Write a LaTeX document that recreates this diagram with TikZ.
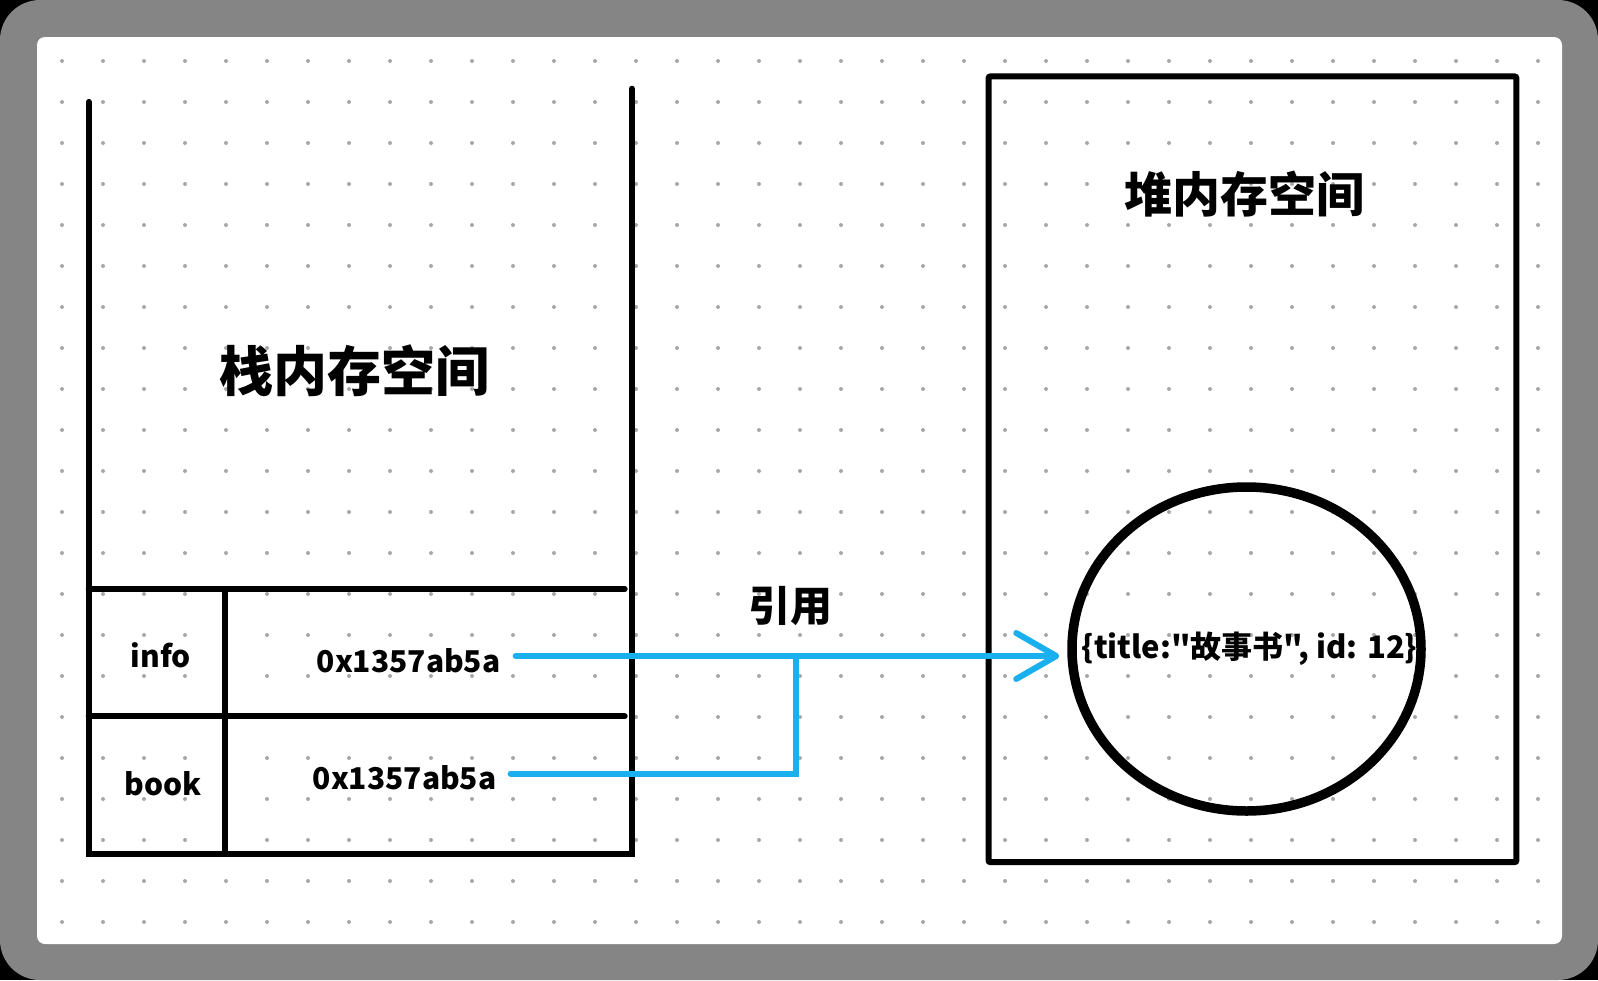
\documentclass[tikz,border=0pt]{standalone}
\usepackage{fontspec}
\usetikzlibrary{positioning}
\usetikzlibrary{shapes.geometric}
\usetikzlibrary{arrows.meta}
\newfontfamily\cjk{Noto Sans CJK SC}
\definecolor{refblue}{HTML}{1AAFEF}
\definecolor{dotgray}{HTML}{A8A8A8}
\definecolor{framegray}{HTML}{858585}

\begin{document}
\begin{tikzpicture}[x=1pt,y=-1pt,
    wall/.style={line width=6pt,line cap=round},
    ref/.style={draw=refblue,line width=6pt,line cap=round},
    lbl/.style={inner sep=0pt,font=\cjk\bfseries\fontsize{30}{30}\selectfont},
    bigtitle/.style={inner sep=0pt,font=\cjk\bfseries\fontsize{54}{54}\selectfont}]
                \useasboundingbox (0,0) rectangle (1598,980);

                % Frame and dotted paper
                \fill[black] (0,0) rectangle (1598,980);
                \fill[framegray,rounded corners=40pt] (0,0) rectangle (1598,980);
                \fill[white,rounded corners=8pt] (37,37) rectangle (1562,944);
                \foreach \i in {0,...,36}
                    \foreach \j in {0,...,21}
                        \fill[dotgray] (62+41*\i,61+41*\j) circle (2);

                % Stack memory
                \draw[wall] (88.7,101.9) -- (88.7,854) -- (631.8,854) -- (631.8,88.7);
                \draw[wall] (88.7,589) -- (624.7,589);
                \draw[wall] (88.7,716.4) -- (624.7,716.4);
                \draw[wall] (225.2,589) -- (225.2,854);
                \node[bigtitle] (stack) at (354.6,371) {栈内存空间};
                \node[lbl] (info) at (161,655) {info};
                \node[lbl] (book) at (163,783.7) {book};
                \node[lbl] (hex1) at (408.6,660.4) {0x1357ab5a};
                \node[lbl] (hex2) at (404.6,777.6) {0x1357ab5a};

                % Heap memory
                \draw[wall,rounded corners=2pt] (988.5,76.4) rectangle (1516.4,862.2);
                \node[bigtitle,font=\cjk\bfseries\fontsize{48}{48}\selectfont] (heap) at (1244.3,193.6) {堆内存空间};
                \node[draw,ellipse,line width=9.5pt,minimum width=349pt,minimum height=324pt,inner sep=0pt] (obj) at (1246.5,649) {};
                \node[lbl,font=\cjk\bfseries\fontsize{31}{31}\selectfont] (objtext) at ([xshift=3pt]obj.center)
                    {\{title:"故事书", id: 12\}};

                % % Reference
                \node[lbl,font=\cjk\bfseries\fontsize{42}{42}\selectfont] (refl) at (790.8,606.4) {引用};
                \coordinate (jn) at (796,656);
                \draw[ref,-{Straight Barb[length=40pt,width=46pt,round]},shorten >=8pt]
                    ([xshift=15pt,yshift=4.4pt]hex1.east) -- (jn) -- (jn -| obj.west);
                \draw[ref] ([xshift=14pt,yshift=4.1pt]hex2.east) -| (jn);
            \end{tikzpicture}
\end{document}
